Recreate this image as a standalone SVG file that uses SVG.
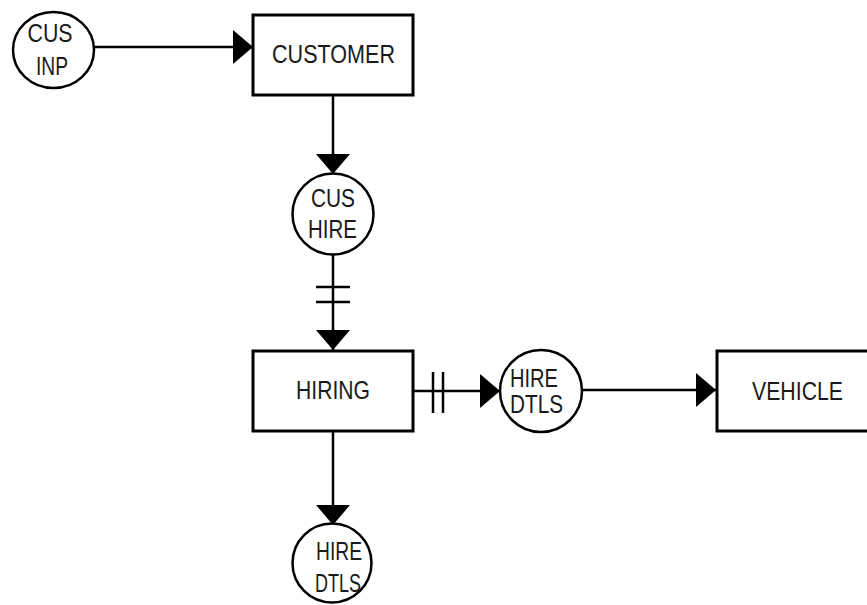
<svg xmlns="http://www.w3.org/2000/svg" width="867" height="605" viewBox="0 0 867 605">
<style>
.box{fill:#fff;stroke:#000;stroke-width:3}
.circ{fill:#fff;stroke:#000;stroke-width:2.5}
.ln{fill:none;stroke:#000;stroke-width:2.5}
.t{font-family:"Liberation Sans",Arial,sans-serif;font-size:26.5px;fill:#1a1a1a;text-anchor:middle}
</style>
<defs>
<marker id="ah" viewBox="0 0 20 34" refX="20" refY="17" markerWidth="20" markerHeight="34" markerUnits="userSpaceOnUse" orient="auto">
<path d="M0,0 L20,17 L0,34 Z" fill="#000"/>
</marker>
</defs>
<rect width="867" height="605" fill="#fff"/>
<g id="connectors">
<line class="ln" x1="94" y1="47" x2="253" y2="47" marker-end="url(#ah)"/>
<line class="ln" x1="333" y1="95" x2="333" y2="174" marker-end="url(#ah)"/>
<line class="ln" x1="333" y1="255" x2="333" y2="350" marker-end="url(#ah)"/>
<line class="ln" x1="316" y1="287" x2="350" y2="287"/>
<line class="ln" x1="316" y1="302" x2="350" y2="302"/>
<line class="ln" x1="413" y1="391" x2="500" y2="391" marker-end="url(#ah)"/>
<line class="ln" x1="433" y1="372" x2="433" y2="413"/>
<line class="ln" x1="443" y1="372" x2="443" y2="413"/>
<line class="ln" x1="582" y1="390" x2="716" y2="390" marker-end="url(#ah)"/>
<line class="ln" x1="333" y1="431" x2="333" y2="525" marker-end="url(#ah)"/>
</g>
<g id="cus-inp">
<ellipse class="circ" cx="53.5" cy="50" rx="40.5" ry="38"/>
<text class="t" x="50" y="42" textLength="45" lengthAdjust="spacingAndGlyphs">CUS</text>
<text class="t" x="52" y="75" textLength="32" lengthAdjust="spacingAndGlyphs">INP</text>
</g>
<g id="customer">
<rect class="box" x="253" y="15" width="160" height="80"/>
<text class="t" x="333.5" y="63" textLength="123" lengthAdjust="spacingAndGlyphs">CUSTOMER</text>
</g>
<g id="cus-hire">
<circle class="circ" cx="333" cy="214" r="40.5"/>
<text class="t" x="333" y="207" textLength="44" lengthAdjust="spacingAndGlyphs">CUS</text>
<text class="t" x="332.5" y="238" textLength="49" lengthAdjust="spacingAndGlyphs">HIRE</text>
</g>
<g id="hiring">
<rect class="box" x="253" y="351" width="160" height="80"/>
<text class="t" x="333" y="399" textLength="74" lengthAdjust="spacingAndGlyphs">HIRING</text>
</g>
<g id="hire-dtls-1">
<ellipse class="circ" cx="541" cy="391" rx="41" ry="41"/>
<text class="t" x="534" y="387" textLength="48" lengthAdjust="spacingAndGlyphs">HIRE</text>
<text class="t" x="536.5" y="413" textLength="53" lengthAdjust="spacingAndGlyphs">DTLS</text>
</g>
<g id="vehicle">
<rect class="box" x="717" y="351" width="160" height="80"/>
<text class="t" x="797.5" y="400" textLength="91" lengthAdjust="spacingAndGlyphs">VEHICLE</text>
</g>
<g id="hire-dtls-2">
<circle class="circ" cx="332" cy="563" r="39.5"/>
<text class="t" x="339" y="560" textLength="46" lengthAdjust="spacingAndGlyphs">HIRE</text>
<text class="t" x="338" y="592" textLength="46" lengthAdjust="spacingAndGlyphs">DTLS</text>
</g>
</svg>
